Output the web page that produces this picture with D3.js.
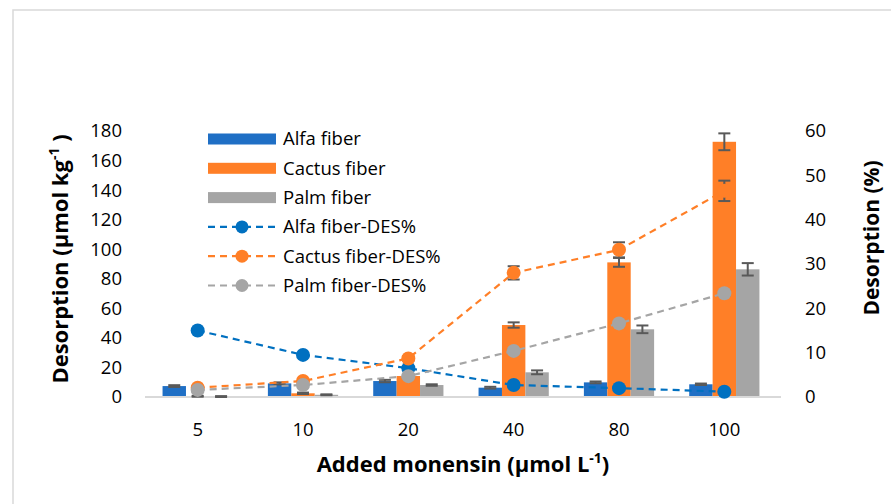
<html lang="en">
<head>
<meta charset="utf-8">
<title>Desorption chart</title>
<script src="https://d3js.org/d3.v7.min.js"></script>
<style>
  body { margin: 0; background: #fff; }
  text { font-family: "Open Sans", "Noto Sans", sans-serif; fill: #000; }
</style>
</head>
<body>
<svg width="891" height="504"></svg>
<script>
// data
var categories = ["5", "10", "20", "40", "80", "100"];
var barSeries = ["Alfa fiber", "Cactus fiber", "Palm fiber"];
var alfa = [7.4, 9.2, 10.8, 6.3, 9.9, 8.6];
var cactus = [0.5, 2.5, 14.2, 48.7, 91.1, 172.7];
var palm = [0.3, 1.5, 8.1, 16.7, 45.8, 86.4];
var alfaErr = [0.6, 0.7, 0.8, 0.6, 0.6, 0.5];
var cactusErr = [0.3, 0.5, 0.8, 1.8, 3.0, 5.7];
var palmErr = [0.3, 0.3, 0.5, 1.3, 2.6, 4.2];

var lineSeries = ["Alfa fiber-DES%", "Cactus fiber-DES%", "Palm fiber-DES%"];
var alfaDes = [15.0, 9.5, 6.5, 2.7, 2.0, 1.2];
var cactusDes = [2.1, 3.6, 8.7, 28.0, 33.2, 46.5];
var palmDes = [1.6, 2.7, 4.7, 10.4, 16.6, 23.4];
var alfaDesErr = [0.3, 0.3, 0.3, 0.2, 0.2, 0.2];
var cactusDesErr = [0.3, 0.4, 0.5, 1.5, 1.7, 2.3];
var palmDesErr = [0.3, 0.3, 0.3, 0.4, 0.4, 0.5];

var leftTicks = [0, 20, 40, 60, 80, 100, 120, 140, 160, 180];
var rightTicks = [0, 10, 20, 30, 40, 50, 60];

var barColors = ["#1f6fc5", "#ff7f27", "#a5a5a5"];
var lineColors = ["#0070c0", "#ff7f27", "#a5a5a5"];

var svg = d3.select("svg");

// outer chart frame
svg.append("rect")
  .attr("x", 13).attr("y", 10)
  .attr("width", 900).attr("height", 520)
  .attr("fill", "none")
  .attr("stroke", "#d9d9d9")
  .attr("stroke-width", 1.5);

var pLeft = 145, pRight = 777, pTop = 131, pBottom = 397;

var x = d3.scaleBand().domain(categories).range([pLeft, pRight]);
var xSub = d3.scaleBand().domain(barSeries).range([0, x.bandwidth()]).paddingOuter(0.75);
var y = d3.scaleLinear().domain([0, 180]).range([pBottom, pTop]);
var y2 = d3.scaleLinear().domain([0, 60]).range([pBottom, pTop]);

// axes (labels only)
var gl = svg.append("g")
  .attr("transform", "translate(" + pLeft + ",0)")
  .call(d3.axisLeft(y).tickValues(leftTicks).tickSize(0).tickPadding(23));
var gr = svg.append("g")
  .attr("transform", "translate(" + pRight + ",0)")
  .call(d3.axisRight(y2).tickValues(rightTicks).tickSize(0).tickPadding(28));
var gb = svg.append("g")
  .attr("transform", "translate(0," + pBottom + ")")
  .call(d3.axisBottom(x).tickSize(0));
gb.selectAll("text").attr("y", 39).attr("dy", null);

[gl, gr, gb].forEach(function(g) {
  g.select(".domain").remove();
  g.selectAll("text").style("font-size", "18.5px").attr("font-family", null).attr("fill", "#000");
});

// bars
var barData = [alfa, cactus, palm];
var barErr = [alfaErr, cactusErr, palmErr];

barSeries.forEach(function(s, i) {
  svg.append("g").selectAll("rect")
    .data(categories)
    .enter().append("rect")
    .attr("x", function(c) { return x(c) + xSub(s); })
    .attr("y", function(c, j) { return y(barData[i][j]); })
    .attr("width", xSub.bandwidth())
    .attr("height", function(c, j) { return pBottom - y(barData[i][j]); })
    .attr("fill", barColors[i]);
});

// baseline
svg.append("line")
  .attr("x1", pLeft).attr("x2", pRight + 4)
  .attr("y1", pBottom).attr("y2", pBottom)
  .attr("stroke", "#d9d9d9").attr("stroke-width", 2);

function errorBars(cx, vals, errs, scale) {
  var g = svg.append("g").attr("stroke", "#595959").attr("stroke-width", 2);
  categories.forEach(function(c, j) {
    var xc = cx(c);
    var y1 = scale(vals[j] + errs[j]), y0 = scale(vals[j] - errs[j]);
    g.append("line").attr("x1", xc).attr("x2", xc).attr("y1", y1).attr("y2", y0);
    g.append("line").attr("x1", xc - 6).attr("x2", xc + 6).attr("y1", y1).attr("y2", y1);
    g.append("line").attr("x1", xc - 6).attr("x2", xc + 6).attr("y1", y0).attr("y2", y0);
  });
}

barSeries.forEach(function(s, i) {
  errorBars(function(c) { return x(c) + xSub(s) + xSub.bandwidth() / 2; }, barData[i], barErr[i], y);
});

// DES lines
var lineData = [alfaDes, cactusDes, palmDes];
var lineErr = [alfaDesErr, cactusDesErr, palmDesErr];
var cx = function(c) { return x(c) + x.bandwidth() / 2; };

var line = d3.line()
  .x(function(d) { return cx(d[0]); })
  .y(function(d) { return y2(d[1]); });

lineSeries.forEach(function(s, i) {
  var pts = categories.map(function(c, j) { return [c, lineData[i][j]]; });
  svg.append("path")
    .datum(pts)
    .attr("d", line)
    .attr("fill", "none")
    .attr("stroke", lineColors[i])
    .attr("stroke-width", 2.2)
    .attr("stroke-dasharray", "7,5");
  errorBars(cx, lineData[i], lineErr[i], y2);
  svg.append("g").selectAll("circle")
    .data(pts)
    .enter().append("circle")
    .attr("cx", function(d) { return cx(d[0]); })
    .attr("cy", function(d) { return y2(d[1]); })
    .attr("r", 7)
    .attr("fill", lineColors[i]);
});

// legend
var lg = svg.append("g").attr("transform", "translate(208,139)");
var rowH = 29.3;
barSeries.forEach(function(s, i) {
  lg.append("rect")
    .attr("x", 0).attr("y", i * rowH - 5.5)
    .attr("width", 68).attr("height", 11)
    .attr("fill", barColors[i]);
  lg.append("text")
    .attr("x", 75).attr("y", i * rowH).attr("dy", "0.35em")
    .style("font-size", "18.5px")
    .text(s);
});
lineSeries.forEach(function(s, i) {
  var yy = (i + 3) * rowH;
  lg.append("line")
    .attr("x1", 0).attr("x2", 68).attr("y1", yy).attr("y2", yy)
    .attr("stroke", lineColors[i]).attr("stroke-width", 2.2)
    .attr("stroke-dasharray", "7,5");
  lg.append("circle").attr("cx", 34).attr("cy", yy).attr("r", 6.5).attr("fill", lineColors[i]);
  lg.append("text")
    .attr("x", 75).attr("y", yy).attr("dy", "0.35em")
    .style("font-size", "18.5px")
    .text(s);
});

// axis titles
var lt = svg.append("text")
  .attr("transform", "translate(68,259) rotate(-90)")
  .attr("text-anchor", "middle")
  .style("font-size", "22px").style("font-weight", "bold");
lt.append("tspan").text("Desorption (µmol kg");
lt.append("tspan").attr("baseline-shift", "super").style("font-size", "14px").text("-1");
lt.append("tspan").text(" )");

svg.append("text")
  .attr("transform", "translate(879,238) rotate(-90)")
  .attr("text-anchor", "middle")
  .style("font-size", "21px").style("font-weight", "bold")
  .text("Desorption (%)");

var xt = svg.append("text")
  .attr("x", 463).attr("y", 472)
  .attr("text-anchor", "middle")
  .style("font-size", "22px").style("font-weight", "bold");
xt.append("tspan").text("Added monensin (µmol L");
xt.append("tspan").attr("baseline-shift", "super").style("font-size", "14px").text("-1");
xt.append("tspan").text(")");
</script>
</body>
</html>
